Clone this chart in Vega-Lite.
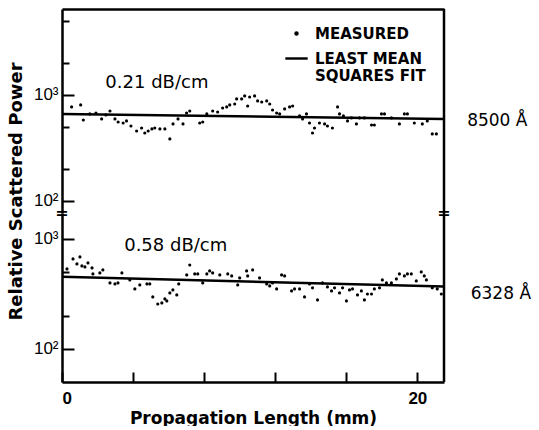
{
  "$schema": "https://vega.github.io/schema/vega-lite/v6.json",
  "padding": {"left": 7, "top": 7, "right": 0, "bottom": 0},
  "background": "white",
  "spacing": 0,
  "bounds": "flush",
  "config": {
    "view": {"stroke": null},
    "axis": {"domainColor": "black", "tickColor": "black", "labelColor": "black", "titleColor": "black", "domainWidth": 2.5, "tickWidth": 2, "grid": false}
  },
  "resolve": {"scale": {"y": "independent", "shape": "independent"}, "legend": {"shape": "independent"}},
  "datasets": {
    "top": [
      {"x":0.54,"v":771},{"x":1.05,"v":805},{"x":1.2,"v":581},{"x":1.57,"v":662},{"x":1.91,"v":676},{"x":2.23,"v":594},{"x":2.47,"v":648},{"x":2.7,"v":706},{"x":2.98,"v":594},{"x":3.16,"v":556},{"x":3.44,"v":544},{"x":3.63,"v":569},{"x":3.88,"v":510},{"x":4.2,"v":457},{"x":4.48,"v":488},{"x":4.66,"v":438},{"x":4.85,"v":457},{"x":5.06,"v":478},{"x":5.22,"v":488},{"x":5.51,"v":478},{"x":5.79,"v":478},{"x":6.07,"v":385},{"x":6.25,"v":533},{"x":6.53,"v":594},{"x":6.81,"v":533},{"x":7.01,"v":676},{"x":7.19,"v":706},{"x":7.75,"v":544},{"x":7.92,"v":556},{"x":8.15,"v":662},{"x":8.48,"v":706},{"x":8.76,"v":691},{"x":9.04,"v":754},{"x":9.27,"v":771},{"x":9.44,"v":805},{"x":9.72,"v":822},{"x":9.83,"v":917},{"x":10.11,"v":917},{"x":10.28,"v":979},{"x":10.45,"v":787},{"x":10.56,"v":957},{"x":10.84,"v":979},{"x":11.01,"v":878},{"x":11.24,"v":859},{"x":11.52,"v":878},{"x":11.69,"v":822},{"x":11.85,"v":722},{"x":12.08,"v":676},{"x":12.25,"v":662},{"x":12.53,"v":738},{"x":12.81,"v":771},{"x":12.98,"v":787},{"x":13.37,"v":634},{"x":13.54,"v":594},{"x":13.76,"v":662},{"x":13.93,"v":544},{"x":14.1,"v":438},{"x":14.21,"v":488},{"x":14.49,"v":544},{"x":14.78,"v":533},{"x":14.94,"v":510},{"x":15.22,"v":488},{"x":15.51,"v":771},{"x":15.62,"v":662},{"x":15.84,"v":634},{"x":16.07,"v":569},{"x":16.29,"v":607},{"x":16.57,"v":533},{"x":16.74,"v":607},{"x":17.02,"v":607},{"x":17.42,"v":521},{"x":17.58,"v":521},{"x":17.98,"v":662},{"x":18.15,"v":662},{"x":18.54,"v":607},{"x":18.99,"v":533},{"x":19.27,"v":662},{"x":19.44,"v":662},{"x":19.83,"v":544},{"x":20.28,"v":533},{"x":20.56,"v":569},{"x":20.84,"v":429},{"x":21.07,"v":429}
    ],
    "bottom": [
      {"x":0.28,"v":534},{"x":0.62,"v":658},{"x":0.84,"v":593},{"x":1.01,"v":686},{"x":1.12,"v":569},{"x":1.29,"v":557},{"x":1.46,"v":605},{"x":1.69,"v":545},{"x":1.74,"v":481},{"x":2.13,"v":491},{"x":2.3,"v":523},{"x":2.7,"v":398},{"x":2.98,"v":390},{"x":3.15,"v":398},{"x":3.37,"v":491},{"x":3.82,"v":424},{"x":4.1,"v":351},{"x":4.38,"v":382},{"x":4.78,"v":390},{"x":4.94,"v":390},{"x":5.11,"v":297},{"x":5.39,"v":256},{"x":5.62,"v":262},{"x":5.79,"v":285},{"x":5.9,"v":273},{"x":6.07,"v":323},{"x":6.24,"v":344},{"x":6.46,"v":310},{"x":6.57,"v":390},{"x":7.02,"v":471},{"x":7.19,"v":580},{"x":7.47,"v":481},{"x":7.64,"v":481},{"x":7.92,"v":398},{"x":8.15,"v":481},{"x":8.31,"v":512},{"x":8.48,"v":491},{"x":8.88,"v":471},{"x":9.33,"v":481},{"x":9.55,"v":461},{"x":9.89,"v":382},{"x":10.0,"v":442},{"x":10.39,"v":512},{"x":10.45,"v":461},{"x":10.73,"v":523},{"x":11.12,"v":442},{"x":11.52,"v":390},{"x":11.69,"v":374},{"x":11.85,"v":398},{"x":12.08,"v":351},{"x":12.36,"v":471},{"x":12.53,"v":461},{"x":12.92,"v":337},{"x":13.09,"v":351},{"x":13.37,"v":351},{"x":13.65,"v":297},{"x":13.93,"v":390},{"x":14.1,"v":359},{"x":14.38,"v":279},{"x":14.66,"v":398},{"x":14.94,"v":366},{"x":15.17,"v":337},{"x":15.34,"v":359},{"x":15.62,"v":323},{"x":15.79,"v":359},{"x":16.01,"v":273},{"x":16.18,"v":344},{"x":16.35,"v":351},{"x":16.63,"v":310},{"x":16.85,"v":337},{"x":17.02,"v":279},{"x":17.19,"v":316},{"x":17.42,"v":316},{"x":17.58,"v":351},{"x":17.87,"v":359},{"x":18.03,"v":424},{"x":18.26,"v":398},{"x":18.54,"v":398},{"x":18.82,"v":433},{"x":18.99,"v":481},{"x":19.27,"v":461},{"x":19.44,"v":481},{"x":19.66,"v":481},{"x":19.94,"v":415},{"x":20.22,"v":501},{"x":20.39,"v":461},{"x":20.51,"v":424},{"x":20.84,"v":359},{"x":21.12,"v":351},{"x":21.35,"v":316}
    ],
    "fitTop": [{"x":0,"v":662},{"x":21.5,"v":594}],
    "fitBottom": [{"x":0,"v":452},{"x":21.5,"v":370}],
    "notesTop": [{"x":5.34,"v":1298,"label":"0.21 dB/cm"}],
    "notesBottom": [{"x":6.4,"v":864,"label":"0.58 dB/cm"}],
    "waveTop": [{"x":24.5,"v":569,"label":"8500 Å"}],
    "waveBottom": [{"x":24.7,"v":316,"label":"6328 Å"}],
    "breaks": [{"x":0},{"x":21.5}]
  },
  "vconcat": [
    {
      "width": 382,
      "height": 204,
      "layer": [
        {
          "data": {"name": "top"},
          "mark": {"type": "point", "filled": true, "size": 10, "color": "black", "opacity": 1},
          "encoding": {
            "x": {"field": "x", "type": "quantitative", "scale": {"domain": [0, 21.5], "nice": false, "zero": false},
                  "axis": {"orient": "top", "labels": false, "ticks": false, "title": null}},
            "y": {"field": "v", "type": "quantitative", "scale": {"type": "log", "domain": [77, 6470], "nice": false},
                  "axis": {"values": [100, 200, 500, 1000, 2000, 5000],
                           "labelExpr": "datum.value == 1000 ? '10³' : datum.value == 100 ? '10²' : ''",
                           "tickSize": {"condition": {"test": "datum.value == 100 || datum.value == 1000", "value": -12}, "value": -7},
                           "labelPadding": 16, "labelFont": "Liberation Sans", "labelFontSize": 17,
                           "title": "Relative Scattered Power", "titleFont": "DejaVu Sans", "titleFontSize": 18, "titleFontWeight": "bold",
                           "titleX": -46, "titleY": 182, "titleAlign": "center", "titleBaseline": "middle", "titleAngle": -90}},
            "shape": {"datum": "MEASURED",
                      "scale": {"domain": ["MEASURED", "LEAST MEAN SQUARES FIT"], "range": ["circle", "M-5,-0.55H5V0.55H-5Z"]},
                      "legend": {"title": null, "orient": "none", "legendX": 227, "legendY": 17,
                                 "symbolSize": 20, "symbolFillColor": "black", "symbolStrokeColor": "black", "symbolStrokeWidth": 1,
                                 "labelFont": "DejaVu Sans", "labelFontWeight": "bold", "labelFontSize": 15, "labelColor": "black",
                                 "rowPadding": 9, "labelOffset": 11,
                                 "labelExpr": "datum.label == 'MEASURED' ? 'MEASURED' : ['LEAST MEAN', 'SQUARES FIT']"}}
          }
        },
        {
          "data": {"name": "fitTop"},
          "mark": {"type": "line", "color": "black", "strokeWidth": 2.5},
          "encoding": {"x": {"field": "x", "type": "quantitative"}, "y": {"field": "v", "type": "quantitative"}}
        },
        {
          "data": {"values": [{}]},
          "mark": {"type": "rule", "color": "black", "strokeWidth": 2.5},
          "encoding": {"x": {"datum": 21.5}}
        },
        {
          "data": {"name": "notesTop"},
          "mark": {"type": "text", "font": "DejaVu Sans", "fontSize": 18, "color": "black"},
          "encoding": {"x": {"field": "x", "type": "quantitative"}, "y": {"field": "v", "type": "quantitative"}, "text": {"field": "label"}}
        },
        {
          "data": {"name": "waveTop"},
          "mark": {"type": "text", "font": "DejaVu Sans", "fontSize": 17, "color": "black"},
          "encoding": {"x": {"field": "x", "type": "quantitative"}, "y": {"field": "v", "type": "quantitative"}, "text": {"field": "label"}}
        }
      ]
    },
    {
      "width": 382,
      "height": 169,
      "layer": [
        {
          "data": {"name": "bottom"},
          "mark": {"type": "point", "filled": true, "size": 10, "color": "black", "opacity": 1, "shape": "circle"},
          "encoding": {
            "x": {"field": "x", "type": "quantitative", "scale": {"domain": [0, 21.5], "nice": false, "zero": false},
                  "axis": {"values": [0, 4, 8, 12, 16, 20], "tickSize": -10,
                           "labelExpr": "datum.value == 0 || datum.value == 20 ? datum.label : ''",
                           "labelFont": "Liberation Sans", "labelFontSize": 17, "labelFontWeight": "bold", "labelPadding": 18,
                           "title": "Propagation Length (mm)", "titleFont": "DejaVu Sans", "titleFontSize": 17, "titleFontWeight": "bold", "titlePadding": 4}},
            "y": {"field": "v", "type": "quantitative", "scale": {"type": "log", "domain": [50, 1722], "nice": false},
                  "axis": {"values": [100, 200, 500, 1000],
                           "labelExpr": "datum.value == 1000 ? '10³' : datum.value == 100 ? '10²' : ''",
                           "tickSize": {"condition": {"test": "datum.value == 100 || datum.value == 1000", "value": -12}, "value": -7},
                           "labelPadding": 16, "labelFont": "Liberation Sans", "labelFontSize": 17, "title": null}}
          }
        },
        {
          "data": {"name": "fitBottom"},
          "mark": {"type": "line", "color": "black", "strokeWidth": 2.5},
          "encoding": {"x": {"field": "x", "type": "quantitative"}, "y": {"field": "v", "type": "quantitative"}}
        },
        {
          "data": {"values": [{}]},
          "mark": {"type": "rule", "color": "black", "strokeWidth": 2.5},
          "encoding": {"x": {"datum": 21.5}}
        },
        {
          "data": {"name": "breaks"},
          "mark": {"type": "text", "text": "=", "font": "DejaVu Sans", "fontSize": 16, "fontWeight": "bold", "color": "black", "baseline": "middle"},
          "encoding": {"x": {"field": "x", "type": "quantitative"}, "y": {"datum": 1722}}
        },
        {
          "data": {"name": "notesBottom"},
          "mark": {"type": "text", "font": "DejaVu Sans", "fontSize": 18, "color": "black"},
          "encoding": {"x": {"field": "x", "type": "quantitative"}, "y": {"field": "v", "type": "quantitative"}, "text": {"field": "label"}}
        },
        {
          "data": {"name": "waveBottom"},
          "mark": {"type": "text", "font": "DejaVu Sans", "fontSize": 17, "color": "black"},
          "encoding": {"x": {"field": "x", "type": "quantitative"}, "y": {"field": "v", "type": "quantitative"}, "text": {"field": "label"}}
        }
      ]
    }
  ]
}
